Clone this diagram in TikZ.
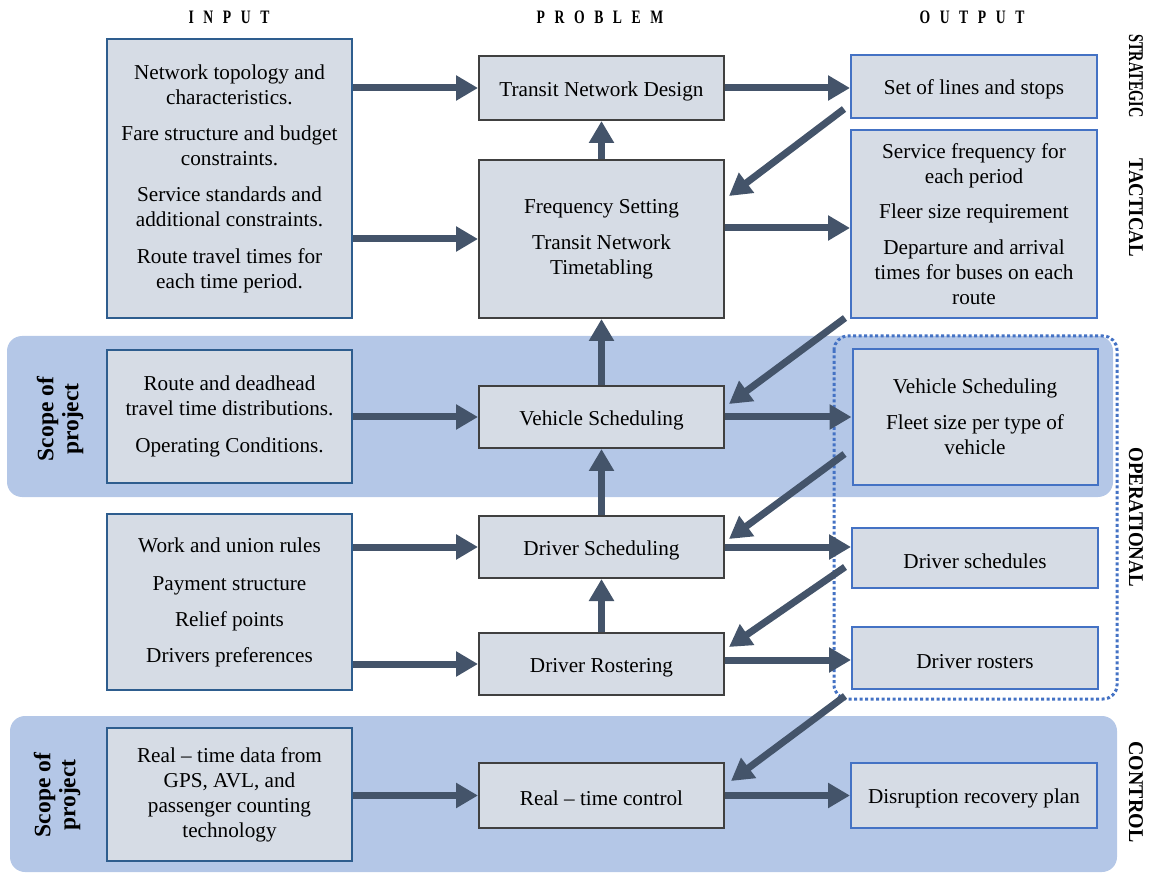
\documentclass[tikz,border=0pt]{standalone}
\usepackage{fontspec}
\setmainfont{Liberation Serif}
\usetikzlibrary{arrows.meta}
\definecolor{boxfill}{HTML}{D6DCE5}
\definecolor{inborder}{HTML}{2E5D8E}
\definecolor{probborder}{HTML}{404040}
\definecolor{outborder}{HTML}{4472C4}
\definecolor{bandcol}{HTML}{B4C7E7}
\definecolor{arrowcol}{HTML}{44546A}
\definecolor{dotcol}{HTML}{4472C4}
\tikzset{
  basebox/.style={draw, fill=boxfill, line width=2pt, align=center, inner sep=0pt,
    font=\fontsize{21.2}{25}\selectfont, execute at begin node={\rule{0pt}{21pt}}},
  inbox/.style={basebox, draw=inborder, minimum width=245pt},
  probbox/.style={basebox, draw=probborder, minimum width=245pt},
  outbox/.style={basebox, draw=outborder, minimum width=246pt},
  arr/.style={draw=arrowcol, line width=7pt, -{Triangle[length=22pt,width=24pt]}},
  header/.style={font=\fontsize{19}{22}\selectfont\bfseries\addfontfeatures{LetterSpace=70}},
  sidelabel/.style={rotate=-90, font=\fontsize{21}{24}\selectfont\bfseries},
  scopelabel/.style={rotate=90, align=center, font=\fontsize{23.5}{25}\selectfont\bfseries}
}
\begin{document}
\begin{tikzpicture}[x=1pt,y=-1pt]
\useasboundingbox (0,0) rectangle (1149,874);
% bands
\fill[bandcol, rounded corners=15pt] (7,336) rectangle (1113,497);
\fill[bandcol, rounded corners=15pt] (10,716) rectangle (1117,872);
\draw[dotcol, line width=3pt, dash pattern=on 3pt off 2.5pt, rounded corners=14pt] (834,336) rectangle (1117,699);

% headers
\node[header] (hin) at (229,17) {\scalebox{0.72}[1]{INPUT}};
\node[header] (hprob) at (600,17) {\scalebox{0.72}[1]{PROBLEM}};
\node[header] (hout) at (972,17) {\scalebox{0.72}[1]{OUTPUT}};

% side labels
\node[sidelabel] (lstrat) at (1136,76) {\scalebox{0.68}[1]{STRATEGIC}};
\node[sidelabel] (ltact) at (1136,208) {\scalebox{0.9}[1]{TACTICAL}};
\node[sidelabel] (loper) at (1136,517) {\scalebox{0.9}[1]{OPERATIONAL}};
\node[sidelabel] (lctrl) at (1136,792) {\scalebox{0.95}[1]{CONTROL}};

\node[scopelabel] (scope1) at (60,419) {Scope of\\project};
\node[scopelabel] (scope2) at (57,795) {Scope of\\project};

% input boxes
\node[inbox, minimum height=279pt] (i1) at (229.5,178.5) {Network topology and\\characteristics.\\[11pt]Fare structure and budget\\constraints.\\[11pt]Service standards and\\additional constraints.\\[12pt]Route travel times for\\each time period.};
\node[inbox, minimum height=133pt] (i2) at (229.5,416.5) {Route and deadhead\\travel time distributions.\\[12pt]Operating Conditions.};
\node[inbox, minimum height=176pt] (i3) at (229.5,602) {Work and union rules\\[13pt]Payment structure\\[11pt]Relief points\\[11pt]Drivers preferences};
\node[inbox, minimum height=133pt] (i4) at (229.5,794.5) {Real -- time data from\\GPS, AVL, and\\passenger counting\\technology};

% problem boxes
\node[probbox, minimum height=64pt] (p1) at (601.5,88) {Transit Network Design};
\node[probbox, minimum height=158pt] (p2) at (601.5,239) {Frequency Setting\\[11pt]Transit Network\\Timetabling};
\node[probbox, minimum height=62pt] (p3) at (601.5,417) {Vehicle Scheduling};
\node[probbox, minimum height=62pt] (p4) at (601.5,547) {Driver Scheduling};
\node[probbox, minimum height=62pt] (p5) at (601.5,664) {Driver Rostering};
\node[probbox, minimum height=65pt] (p6) at (601.5,795.5) {Real -- time control};

% output boxes
\node[outbox, minimum height=63pt] (o1) at (974,86.5) {Set of lines and stops};
\node[outbox, minimum height=188pt] (o2) at (974,224) {Service frequency for\\each period\\[10pt]Fleer size requirement\\[11pt]Departure and arrival\\times for buses on each\\route};
\node[outbox, minimum height=136pt, minimum width=245pt] (o3) at (975,417) {Vehicle Scheduling\\[11pt]Fleet size per type of\\vehicle};
\node[outbox, minimum height=60pt] (o4) at (975,558) {Driver schedules};
\node[outbox, minimum height=62pt] (o5) at (975,658) {Driver rosters};
\node[outbox, minimum height=65pt] (o6) at (974,795.5) {Disruption recovery plan};

% input -> problem
\draw[arr] (i1.east |- p1.west) -- (p1.west);
\draw[arr] (i1.east |- p2.west) -- (p2.west);
\draw[arr] (i2.east |- p3.west) -- (p3.west);
\draw[arr] (i3.east |- p4.west) -- (p4.west);
\draw[arr] (i3.east |- p5.west) -- (p5.west);
\draw[arr] (i4.east |- p6.west) -- (p6.west);

% problem -> output
\draw[arr] (p1.east) -- (p1.east -| o1.west);
\path ([yshift=11pt]p2.east) coordinate (a2);
\draw[arr] (a2) -- (a2 -| o2.west);
\draw[arr] (p3.east) -- (p3.east -| o3.west);
\draw[arr] (p4.east) -- (p4.east -| o4.west);
\path ([yshift=4pt]p5.east) coordinate (a5);
\draw[arr] (a5) -- (a5 -| o5.west);
\draw[arr] (p6.east) -- (p6.east -| o6.west);

% upward
\draw[arr] (p2.north) -- (p1.south);
\draw[arr] (p3.north) -- (p2.south);
\draw[arr] (p4.north) -- (p3.south);
\draw[arr] (p5.north) -- (p4.south);

% diagonal feedback
\draw[arr] ([xshift=-6pt,yshift=10pt]o1.south west) -- ([xshift=4pt,yshift=-37pt]p2.north east);
\draw[arr] ([xshift=-5pt,yshift=1pt]o2.south west) -- ([xshift=4pt,yshift=-19pt]p3.north east);
\draw[arr] ([xshift=-7pt,yshift=32pt]o3.south west) -- ([xshift=4pt,yshift=-24pt]p4.north east);
\draw[arr] ([xshift=-6pt,yshift=22pt]o4.south west) -- ([xshift=4pt,yshift=-15pt]p5.north east);
\draw[arr] ([xshift=-6pt,yshift=-6pt]o5.south west) -- ([xshift=6pt,yshift=-19pt]p6.north east);
\end{tikzpicture}
\end{document}
